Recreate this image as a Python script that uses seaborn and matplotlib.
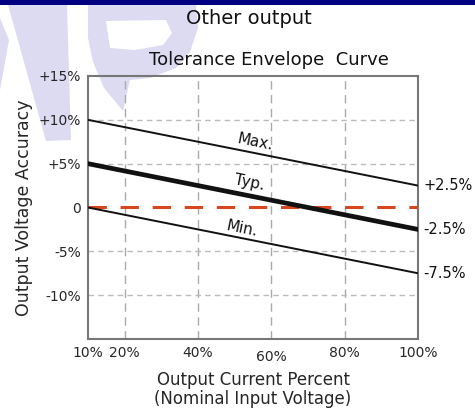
"""Tolerance envelope curve, output voltage accuracy vs load."""

import matplotlib

matplotlib.use("Agg")

import matplotlib.pyplot as plt
import matplotlib.transforms as mtransforms
import pandas as pd
import seaborn as sns
from matplotlib.patches import Polygon

# data
load_pct = [10, 100]
max_acc = [10.0, 2.5]
typ_acc = [5.0, -2.5]
min_acc = [0.0, -7.5]
end_labels = ["+2.5%", "-2.5%", "-7.5%"]
x_ticks = [10, 20, 40, 60, 80, 100]
x_tick_labels = ["10%", "20%", "40%", "60%", "80%", "100%"]
y_ticks = [15, 10, 5, 0, -5, -10]
y_tick_labels = ["+15%", "+10%", "+5%", "0", "-5%", "-10%"]

sns.set_theme(style="white")
plt.rcParams["font.family"] = ["DejaVu Sans"]
plt.rcParams["text.color"] = "#111111"

fig = plt.figure(figsize=(4.75, 4.12), dpi=100)
fig.patch.set_facecolor("white")

# background: navy strip and faint watermark, in pixel coords
bg = fig.add_axes([0, 0, 1, 1], zorder=0)
bg.set_xlim(0, 475)
bg.set_ylim(412, 0)
bg.axis("off")
bg.add_patch(plt.Rectangle((0, 0), 475, 5, color="#000080", lw=0))
wm = "#dddbf1"
bg.add_patch(Polygon([(0, 18), (9, 40), (0, 90)], color=wm, lw=0))
bg.add_patch(Polygon([(8, 5), (67, 5), (71, 140), (46, 141)], color=wm, lw=0))
bg.add_patch(Polygon([(88, 5), (196, 5), (198, 28), (190, 52), (176, 68),
                      (150, 78), (130, 80), (123, 111), (104, 88), (93, 62),
                      (88, 38)], color=wm, lw=0))
bg.add_patch(Polygon([(106, 21), (166, 20), (172, 33), (163, 45), (135, 50),
                      (110, 48)], color="white", lw=0))

ax = fig.add_axes([88 / 475, 1 - 339 / 412, 330 / 475, 263 / 412], zorder=1)
ax.set_facecolor("none")

df = pd.DataFrame({"load": load_pct * 3,
                   "acc": max_acc + typ_acc + min_acc,
                   "curve": ["Max."] * 2 + ["Typ."] * 2 + ["Min."] * 2})

sns.lineplot(data=df[df.curve == "Max."], x="load", y="acc", color="#111111",
             lw=1.4, ax=ax, zorder=4)
sns.lineplot(data=df[df.curve == "Typ."], x="load", y="acc", color="#111111",
             lw=3.4, ax=ax, zorder=4)
sns.lineplot(data=df[df.curve == "Min."], x="load", y="acc", color="#111111",
             lw=1.4, ax=ax, zorder=4)
ax.axhline(0, color="#d9461e", lw=2.2, dashes=(6, 4.5), zorder=3)

# grid
for x in x_ticks[1:-1]:
    ax.axvline(x, color="#aaaaaa", lw=1.0, dashes=(6, 4), zorder=1)
for y in [10, 5, -5, -10]:
    ax.axhline(y, color="#bbbbbb", lw=1.0, dashes=(4, 3), zorder=1)

ax.set_xlim(10, 100)
ax.set_ylim(-15, 15)
ax.set_xticks(x_ticks)
ax.set_xticklabels(x_tick_labels, fontsize=10)
ax.set_yticks(y_ticks)
ax.set_yticklabels(y_tick_labels, fontsize=10)
ax.tick_params(length=0, pad=5)
# the 60% label sits a bit lower in the source
lbl = ax.get_xticklabels()[3]
lbl.set_transform(lbl.get_transform()
                  + mtransforms.ScaledTranslation(0, -4 / 100, fig.dpi_scale_trans))
for s in ax.spines.values():
    s.set_color("#777777")
    s.set_linewidth(1.5)

ax.set_xlabel("Output Current Percent\n(Nominal Input Voltage)", fontsize=12,
              labelpad=5, linespacing=1.1)
ax.set_ylabel("Output Voltage Accuracy", fontsize=12.5, labelpad=4)

# curve names along lines
ang = -11.3
ax.text(55.5, 7.4, "Max.", rotation=ang, fontsize=11, ha="center", va="center")
ax.text(54, 2.8, "Typ.", rotation=ang, fontsize=11, ha="center", va="center")
ax.text(52, -2.4, "Min.", rotation=ang, fontsize=11, ha="center", va="center")

# end values on the right
for yv, txt in zip([max_acc[1], typ_acc[1], min_acc[1]], end_labels):
    ax.text(101.5, yv, txt, fontsize=10.5, ha="left", va="center", clip_on=False)

fig.text(249 / 475, 1 - 19 / 412, "Other output", fontsize=14, ha="center",
         va="center")
fig.text(269 / 475, 1 - 60 / 412, "Tolerance Envelope  Curve", fontsize=13,
         ha="center", va="center")

fig.savefig("out.png", dpi=100)
